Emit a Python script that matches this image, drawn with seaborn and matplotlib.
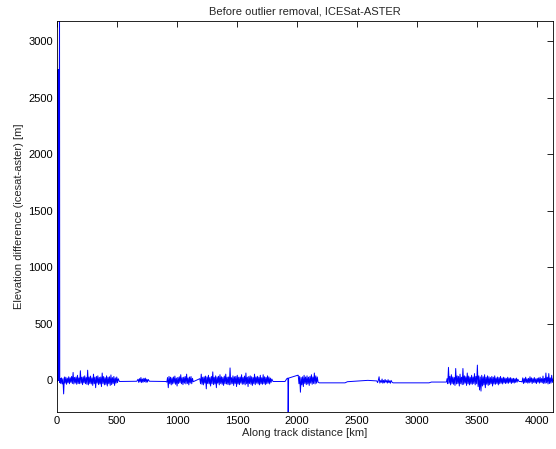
import numpy as np
import pandas as pd
import matplotlib
matplotlib.use("Agg")
import matplotlib.pyplot as plt
import seaborn as sns

# ---- data (km, metres) ----
start_km = [0, 1, 2, 3, 4, 5, 6, 7, 8, 9, 11, 12, 13, 14, 16, 21, 23]
start_m = [0, 60, 1380, -10, 1380, 0, 1370, 0, 2750, 0, 1370, 5, 2750, 10, 1300, 3400, -20]

segA_km = (25, 510)
segA_m = [18, -28, 22, -32, 15, -120, 30, -25, 28, -35, 20, -22, 32, -30, 24, -18, 35, -28, 70, -32,
          26, -24, 30, -35, 45, -28, 22, -30, 85, -25, 28, -38, 32, -22, 40, -30, 25, -35, 90, -40,
          30, -28, 38, -32, 22, -45, 55, -30, 28, -65, 35, -25, 40, -38, 26, -32, 30, -55, 65, -28,
          34, -40, 24, -36, 40, -50, 28, -30, 32, -45, 48, -38, 25, -28, 35, -45, 22, -25, 30, -20, 15]
gap1_km = [520, 665]
gap1_m = [-10, -8]
segB_km = (675, 760)
segB_m = [10, -18, 15, -14, 25, -20, 12, -16, 18, -12, 20, -18, 10, -15, 8]
gap2_km = [770, 905]
gap2_m = [-8, -10]
segC_km = (915, 1135)
segC_m = [-15, 25, -65, 35, -30, 28, -40, 22, -32, 30, -25, 38, -35, 20, -50, 26, -28, 32, -22, 50,
          -30, 24, -38, 28, -25, 35, -32, 55, -28, 22, -40, 30, -24, 34, -30, 18, -12]
segD_km = (1190, 1790)
segD_m = [15, -30, 55, -35, 28, -40, 32, -25, 38, -75, 30, -28, 45, -32, 25, -50, 35, -30, 75, -38,
          28, -32, 40, -65, 30, -25, 36, -40, 50, -28, 32, -35, 26, -45, 38, -30, 55, -32, 28, -36,
          30, -40, 110, -35, 24, -30, 40, -45, 32, -28, 35, -55, 45, -32, 28, -38, 30, -25, 50, -35,
          26, -32, 38, -40, 65, -30, 28, -55, 34, -28, 40, -35, 32, -45, 25, -30, 55, -38, 30, -25,
          36, -32, 28, -40, 45, -30, 24, -35, 50, -28, 32, -38, 26, -30, 40, -25, 30, -32, 20, -18, 12]
gap3_km = [1800, 1900, 1915, 1924, 1926, 1930, 2005]
gap3_m = [-10, -10, 15, 20, -400, 20, 45]
segE_km = (2010, 2175)
segE_m = [45, -30, 35, -105, 25, -40, 32, -55, 45, -28, 30, -38, 40, -32, 28, -45, 35, -25, 50, -35,
          30, -28, 65, -32, 40, -25, 30, -15]
gap4_km = [2185, 2400, 2420, 2590, 2655]
gap4_m = [-22, -22, -12, 0, -5]
segF_km = (2665, 2790)
segF_m = [-5, -20, 0, 32, -24, -2, -18, 12, -25, 0, -22, 8, -16, -2, -24, 6, -20, -4, -26, 0, -14]
gap5_km = [2800, 3100, 3120, 3245]
gap5_m = [-22, -22, -15, -15]
segG_km = (3250, 3840)
segG_m = [15, -30, 115, -25, 35, -40, 50, -28, 30, -35, 25, -45, 105, -32, 40, -28, 35, -50, 55, -30,
          28, -38, 105, -35, 40, -25, 32, -45, 65, -30, 38, -40, 28, -32, 45, -35, 30, -28, 60, -40,
          35, -30, 135, -55, 40, -85, 30, -95, 45, -50, 32, -40, 50, -65, 28, -35, 40, -45, 32, -38,
          25, -30, 35, -50, 28, -32, 40, -35, 22, -28, 30, -40, 25, -30, 35, -25, 20, -32, 28, -22,
          22, -28, 18, -24, 28, -26, 20, -18, 24, -28, 16, -20, 18, -24, 14, -18, 20, -16, 10]
gap6_km = [3850, 3868]
gap6_m = [-10, -10]
segH_km = (3875, 4140)
segH_m = [-15, 22, -28, 16, -22, 28, -18, 14, -25, 18, -22, 32, -16, 22, -28, 16, -18, 25, -22, 14,
          -28, 18, -16, 22, -25, 28, -18, 16, -22, 38, -28, 18, -25, 65, -22, 28, -32, 60, -28, 22,
          -25, 45, -18, 15, -12]

x_ticks = [0, 500, 1000, 1500, 2000, 2500, 3000, 3500, 4000]
y_ticks = [0, 500, 1000, 1500, 2000, 2500, 3000]


def seg(rng, vals):
    return list(np.linspace(rng[0], rng[1], len(vals))), list(vals)


xs, ys = [], []
parts = [
    (start_km, start_m),
    seg(segA_km, segA_m), (gap1_km, gap1_m),
    seg(segB_km, segB_m), (gap2_km, gap2_m),
    seg(segC_km, segC_m),
    seg(segD_km, segD_m), (gap3_km, gap3_m),
    seg(segE_km, segE_m), (gap4_km, gap4_m),
    seg(segF_km, segF_m), (gap5_km, gap5_m),
    seg(segG_km, segG_m), (gap6_km, gap6_m),
    seg(segH_km, segH_m),
]
for px, py in parts:
    xs += list(px)
    ys += list(py)

df = pd.DataFrame({"km": xs, "dh": ys})

sns.set_theme(style="white")
plt.rcParams["font.family"] = ["Liberation Sans", "DejaVu Sans"]

fig = plt.figure(figsize=(5.56, 4.49), dpi=100)
ax = fig.add_axes([57 / 556, 37 / 449, 496 / 556, 391 / 449])
sns.lineplot(data=df, x="km", y="dh", sort=False, estimator=None,
             color="#0000ff", linewidth=0.7, ax=ax)

ax.set_xlim(0, 4133)
ax.set_ylim(-280, 3180)
ax.set_xticks(x_ticks)
ax.set_yticks(y_ticks)
ax.tick_params(direction="in", length=4, width=0.6, top=True, right=True,
               labelsize=8, colors="black", pad=3)
for s in ax.spines.values():
    s.set_visible(True)
    s.set_color("black")
    s.set_linewidth(0.6)
ax.set_xlabel("Along track distance [km]", fontsize=8, labelpad=1)
ax.set_ylabel("Elevation difference (icesat-aster) [m]", fontsize=8, labelpad=3)
ax.set_title("Before outlier removal, ICESat-ASTER", fontsize=8, pad=5)

fig.savefig("out.png", dpi=100, facecolor="white")
